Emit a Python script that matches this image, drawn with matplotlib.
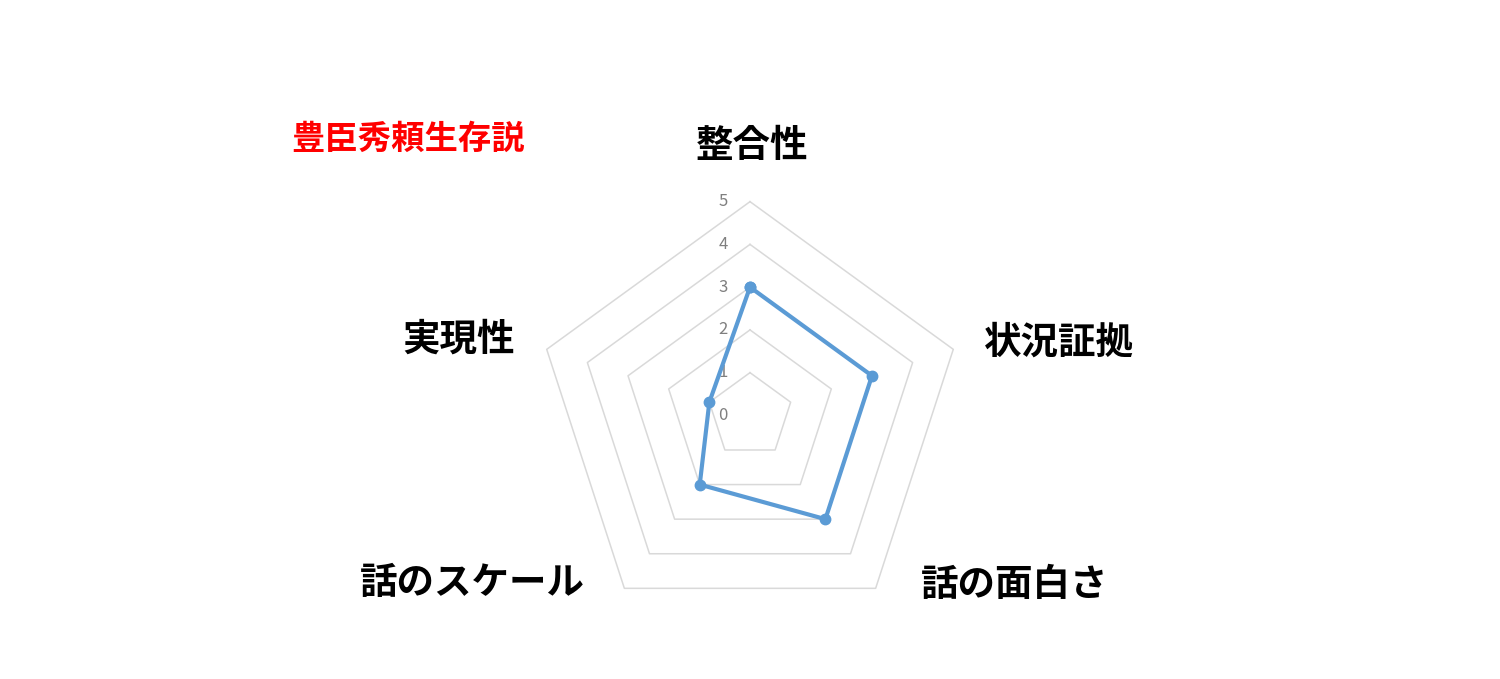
import matplotlib.pyplot as plt
import numpy as np

plt.rcParams['font.family'] = ['Noto Sans CJK JP', 'DejaVu Sans']

title = '豊臣秀頼生存説'
categories = ['整合性', '状況証拠', '話の面白さ', '話のスケール', '実現性']
values = [3, 3, 3, 2, 1]
ticks = [0, 1, 2, 3, 4, 5]

# label offsets from the outer vertex (units of the value scale)
label_off = [(0.05, 1.32, 'center'), (0.72, 0.17, 'left'), (1.06, 0.08, 'left'),
             (-0.93, 0.13, 'right'), (-0.74, 0.25, 'right')]

n = len(categories)
ang = np.pi/2 - np.arange(n)*2*np.pi/n

fig = plt.figure(figsize=[15, 6.79], dpi=100)
ax = fig.add_axes([0, 0, 1, 1])
unit = 42.75
ax.set_xlim(-750/unit, 750/unit)
ax.set_ylim(-(679-415.4)/unit, 415.4/unit)
ax.axis('off')

# pentagon grid
for r in ticks[1:]:
    xs = r*np.cos(np.append(ang, ang[0]))
    ys = r*np.sin(np.append(ang, ang[0]))
    ax.plot(xs, ys, color='#d9d9d9', lw=1.1, zorder=1)

for t in ticks:
    ax.text(-0.63, t, str(t), color='#7f7f7f', fontsize=12, ha='center', va='center')

v = np.array(values, dtype=float)
xs = v*np.cos(ang)
ys = v*np.sin(ang)
ax.plot(np.append(xs, xs[0]), np.append(ys, ys[0]), color='#5b9bd5', lw=3,
        marker='o', ms=7.5, zorder=3)

R = ticks[-1]
for i, c in enumerate(categories):
    dx, dy, ha = label_off[i]
    ax.text(R*np.cos(ang[i])+dx, R*np.sin(ang[i])+dy, c, fontsize=27,
            fontweight='bold', ha=ha, va='center', color='black')

ax.text((408-750)/unit, (415.4-139)/unit, title, color='#ff0000', fontsize=24,
        fontweight='bold', ha='center', va='center')

fig.savefig('out.png', dpi=100)
